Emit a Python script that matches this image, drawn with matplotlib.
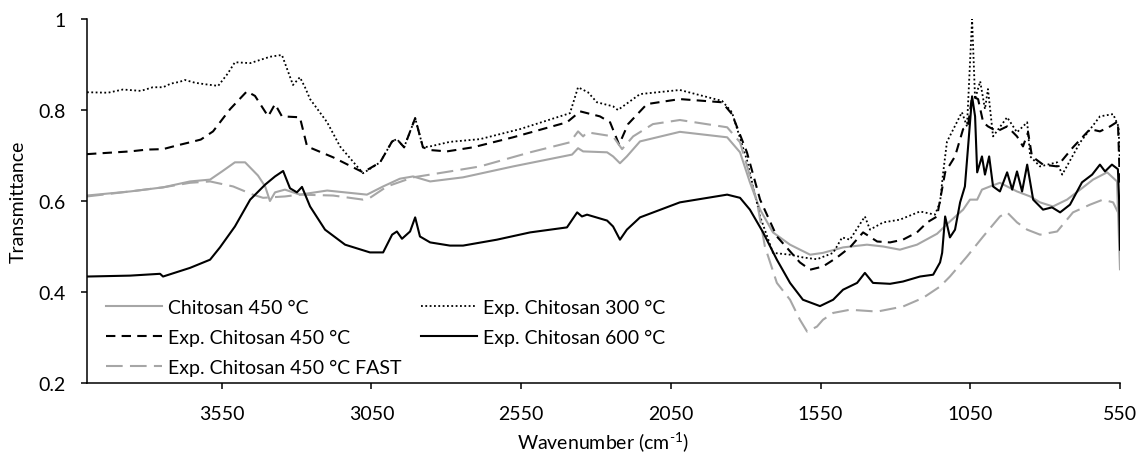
import matplotlib
matplotlib.use("Agg")
import matplotlib.pyplot as plt

plt.rcParams["font.family"] = ["Lato", "DejaVu Sans"]
plt.rcParams["mathtext.fontset"] = "custom"
plt.rcParams["mathtext.rm"] = "Lato"

# values (wavenumber in cm-1, transmittance)
wn_chitosan_450 = [4000, 3856, 3746, 3656, 3589, 3549, 3506, 3472, 3429, 3405, 3389, 3372, 3339,
                   3289, 3198, 3065, 3011, 2955, 2911, 2854, 2744, 2577, 2380, 2360, 2343, 2263,
                   2243, 2220, 2197, 2153, 2020, 1862, 1819, 1786, 1752, 1709, 1652, 1585, 1542,
                   1475, 1395, 1341, 1285, 1228, 1161, 1118, 1074, 1051, 1027, 1011, 984, 951,
                   894, 850, 817, 774, 727, 683, 640, 593, 560, 550]
t_chitosan_450 = [0.612, 0.621, 0.630, 0.643, 0.647, 0.665, 0.685, 0.685, 0.656, 0.632, 0.600, 0.619,
                  0.625, 0.614, 0.623, 0.614, 0.632, 0.649, 0.654, 0.643, 0.652, 0.676, 0.702, 0.716,
                  0.709, 0.707, 0.698, 0.683, 0.698, 0.731, 0.752, 0.740, 0.707, 0.641, 0.581, 0.531,
                  0.504, 0.482, 0.486, 0.498, 0.504, 0.500, 0.493, 0.504, 0.528, 0.555, 0.581, 0.603,
                  0.603, 0.625, 0.632, 0.640, 0.621, 0.610, 0.597, 0.588, 0.603, 0.625, 0.647, 0.663,
                  0.643, 0.450]

wn_exp_300 = [4000, 3930, 3880, 3820, 3780, 3746, 3720, 3690, 3673, 3640, 3610, 3562, 3530, 3506,
              3455, 3389, 3349, 3312, 3289, 3272, 3255, 3198, 3155, 3098, 3078, 3021, 2981, 2965,
              2941, 2904, 2878, 2854, 2788, 2687, 2554, 2387, 2360, 2327, 2297, 2243, 2227, 2153,
              2020, 1879, 1846, 1796, 1752, 1709, 1652, 1609, 1562, 1508, 1478, 1452, 1402, 1385,
              1341, 1285, 1218, 1168, 1151, 1141, 1128, 1078, 1061, 1044, 1034, 1017, 1001, 991,
              974, 927, 894, 860, 850, 817, 760, 743, 683, 617, 573, 555, 550]
t_exp_300 = [0.839, 0.838, 0.845, 0.842, 0.850, 0.850, 0.858, 0.862, 0.866, 0.860, 0.857, 0.853,
             0.880, 0.905, 0.903, 0.917, 0.921, 0.855, 0.872, 0.850, 0.824, 0.773, 0.720, 0.676,
             0.661, 0.685, 0.731, 0.736, 0.718, 0.782, 0.718, 0.720, 0.730, 0.736, 0.758, 0.793,
             0.850, 0.839, 0.817, 0.808, 0.800, 0.835, 0.844, 0.820, 0.795, 0.690, 0.566, 0.486,
             0.482, 0.476, 0.472, 0.486, 0.520, 0.515, 0.566, 0.537, 0.553, 0.559, 0.577, 0.570,
             0.597, 0.660, 0.730, 0.795, 0.764, 1.000, 0.824, 0.863, 0.802, 0.846, 0.742, 0.784,
             0.751, 0.773, 0.698, 0.676, 0.685, 0.658, 0.729, 0.786, 0.791, 0.764, 0.680]

wn_exp_450 = [4000, 3856, 3800, 3746, 3700, 3656, 3620, 3579, 3522, 3466, 3439, 3395, 3372, 3349,
              3289, 3265, 3178, 3078, 3021, 2981, 2965, 2941, 2904, 2878, 2854, 2798, 2711, 2577,
              2397, 2353, 2287, 2253, 2223, 2193, 2130, 2020, 1879, 1846, 1796, 1752, 1696, 1619,
              1585, 1542, 1495, 1452, 1408, 1361, 1318, 1275, 1228, 1194, 1161, 1134, 1101, 1074,
              1058, 1044, 1024, 1007, 991, 961, 927, 894, 874, 857, 844, 807, 760, 707, 650, 617,
              583, 557, 550]
t_exp_450 = [0.703, 0.709, 0.713, 0.714, 0.722, 0.729, 0.735, 0.753, 0.802, 0.841, 0.831, 0.786,
             0.813, 0.786, 0.784, 0.720, 0.696, 0.663, 0.685, 0.731, 0.736, 0.718, 0.782, 0.718,
             0.712, 0.709, 0.718, 0.740, 0.773, 0.797, 0.786, 0.773, 0.724, 0.769, 0.813, 0.824,
             0.817, 0.791, 0.707, 0.603, 0.522, 0.465, 0.449, 0.456, 0.476, 0.498, 0.531, 0.511,
             0.509, 0.515, 0.531, 0.553, 0.566, 0.663, 0.698, 0.758, 0.764, 0.830, 0.824, 0.773,
             0.764, 0.753, 0.764, 0.742, 0.720, 0.751, 0.698, 0.680, 0.676, 0.718, 0.758, 0.753,
             0.764, 0.775, 0.630]

wn_exp_600 = [4000, 3856, 3756, 3746, 3656, 3589, 3556, 3506, 3455, 3405, 3372, 3345, 3322, 3299,
              3282, 3255, 3205, 3138, 3055, 3011, 2981, 2965, 2948, 2921, 2904, 2888, 2854, 2788,
              2744, 2631, 2520, 2397, 2363, 2347, 2330, 2263, 2243, 2220, 2197, 2153, 2020, 1862,
              1819, 1786, 1742, 1696, 1652, 1609, 1552, 1508, 1475, 1428, 1402, 1375, 1318, 1275,
              1218, 1174, 1151, 1144, 1134, 1118, 1101, 1084, 1068, 1058, 1044, 1034, 1027, 1011,
              1001, 987, 974, 951, 927, 910, 894, 877, 860, 840, 807, 777, 750, 717, 677, 643, 617,
              600, 577, 557, 553, 550]
t_exp_600 = [0.434, 0.436, 0.440, 0.434, 0.453, 0.471, 0.498, 0.544, 0.603, 0.636, 0.654, 0.666,
             0.628, 0.619, 0.631, 0.588, 0.537, 0.504, 0.487, 0.487, 0.526, 0.533, 0.517, 0.533,
             0.564, 0.522, 0.509, 0.502, 0.502, 0.515, 0.531, 0.542, 0.575, 0.566, 0.570, 0.557,
             0.544, 0.515, 0.537, 0.564, 0.597, 0.614, 0.607, 0.581, 0.531, 0.471, 0.420, 0.383,
             0.369, 0.383, 0.405, 0.420, 0.442, 0.420, 0.418, 0.423, 0.434, 0.438, 0.465, 0.486,
             0.566, 0.520, 0.537, 0.597, 0.632, 0.714, 0.830, 0.786, 0.663, 0.698, 0.658, 0.698,
             0.632, 0.621, 0.663, 0.625, 0.665, 0.621, 0.680, 0.603, 0.581, 0.586, 0.575, 0.592,
             0.641, 0.658, 0.680, 0.665, 0.680, 0.670, 0.603, 0.493]

wn_exp_450_fast = [4000, 3856, 3746, 3656, 3589, 3512, 3446, 3412, 3339, 3289, 3178, 3078, 3055,
                   2998, 2911, 2788, 2687, 2520, 2387, 2360, 2343, 2330, 2243, 2213, 2176, 2110,
                   2020, 1862, 1819, 1792, 1762, 1736, 1696, 1652, 1619, 1595, 1562, 1542, 1508,
                   1452, 1361, 1275, 1208, 1151, 1118, 1061, 1007, 951, 927, 894, 860, 817, 760,
                   707, 650, 607, 573, 550]
t_exp_450_fast = [0.610, 0.621, 0.630, 0.640, 0.643, 0.632, 0.614, 0.607, 0.610, 0.614, 0.612, 0.603,
                  0.607, 0.632, 0.652, 0.665, 0.676, 0.707, 0.729, 0.753, 0.742, 0.751, 0.742, 0.714,
                  0.742, 0.769, 0.778, 0.762, 0.729, 0.669, 0.597, 0.500, 0.420, 0.383, 0.339, 0.313,
                  0.324, 0.339, 0.354, 0.361, 0.357, 0.368, 0.387, 0.412, 0.434, 0.478, 0.522, 0.566,
                  0.575, 0.553, 0.537, 0.526, 0.533, 0.575, 0.592, 0.603, 0.597, 0.566]

y_ticks = [0.2, 0.4, 0.6, 0.8, 1.0]
y_tick_labels = ["0.2", "0.4", "0.6", "0.8", "1"]
x_ticks = [3550, 3050, 2550, 2050, 1550, 1050, 550]

GRAY = "#a6a6a6"

fig = plt.figure(figsize=(11.42, 4.6), dpi=100)
ax = fig.add_axes([87 / 1142, 1 - 384 / 460, 1033 / 1142, 364 / 460])

l_chi, = ax.plot(wn_chitosan_450, t_chitosan_450, color=GRAY, lw=1.5,
                 label="Chitosan 450 °C")
l_300, = ax.plot(wn_exp_300, t_exp_300, color="black", lw=1.3, ls=(0, (1, 1.4)),
                 label="Exp. Chitosan 300 °C")
l_450, = ax.plot(wn_exp_450, t_exp_450, color="black", lw=1.5, ls=(0, (4.5, 3)),
                 label="Exp. Chitosan 450 °C")
l_fast, = ax.plot(wn_exp_450_fast, t_exp_450_fast, color=GRAY, lw=1.5, ls=(0, (8, 3.5)),
                  label="Exp. Chitosan 450 °C FAST")
l_600, = ax.plot(wn_exp_600, t_exp_600, color="black", lw=1.5,
                 label="Exp. Chitosan 600 °C")

ax.set_xlim(4000, 550)
ax.set_ylim(0.2, 1.0)
ax.set_xticks(x_ticks)
ax.set_xticklabels([str(v) for v in x_ticks])
ax.set_yticks(y_ticks)
ax.set_yticklabels(y_tick_labels)

for side in ("top", "right"):
    ax.spines[side].set_visible(False)
for side in ("left", "bottom"):
    ax.spines[side].set_linewidth(1.1)
ax.tick_params(axis="both", direction="out", length=4.5, width=1.1, labelsize=14, pad=11)

ax.set_ylabel("Transmittance", fontsize=14, labelpad=8)
ax.set_xlabel(r"Wavenumber (cm$^{\text{-1}}$)", fontsize=14, labelpad=6)

ax.legend(handles=[l_chi, l_450, l_fast, l_300, l_600], ncol=2, frameon=False,
          loc="lower left", bbox_to_anchor=(0.018, 0.02), borderaxespad=0, borderpad=0,
          fontsize=14, handlelength=2.9, handletextpad=0.3, labelspacing=0.65,
          columnspacing=1.0)

fig.savefig("out.png", dpi=100)
